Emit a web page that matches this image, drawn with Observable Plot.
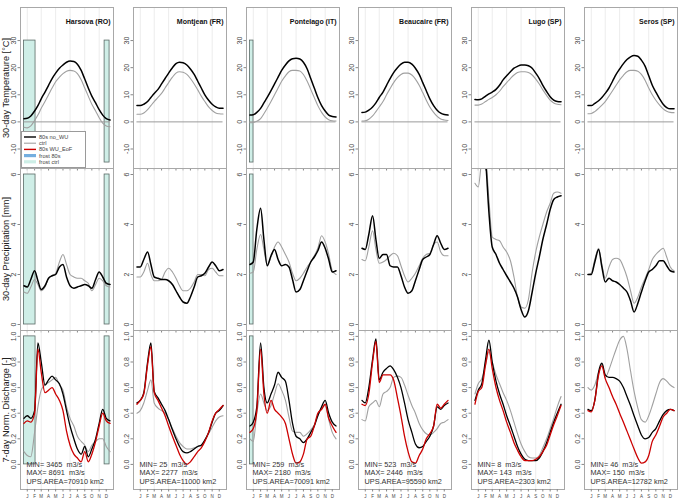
<!DOCTYPE html>
<html><head><meta charset="utf-8">
<script src="https://cdn.jsdelivr.net/npm/d3@7"></script>
<script src="https://cdn.jsdelivr.net/npm/@observablehq/plot@0.6"></script>
<style>
body{margin:0;background:#fff;font-family:"Liberation Sans",Arial,sans-serif;}
#chart{position:relative;width:678px;height:502px;overflow:hidden;background:#fff;}
.ylab{position:absolute;width:180px;height:10px;line-height:10px;text-align:center;transform:rotate(-90deg);white-space:nowrap;font-size:9.2px;color:#222;}
</style></head><body><div id="chart"></div>
<script>
// ---------------- data ----------------
const stations = ["Harsova (RO)","Montjean (FR)","Pontelago (IT)","Beaucaire (FR)","Lugo (SP)","Seros (SP)"];
const days = [1,15,30,46,60,74,90,105,120,135,151,166,181,196,212,227,243,258,273,288,304,319,334,349,365];
const monthLabels = ["J","F","M","A","M","J","J","A","S","O","N","D"];
const monthMidDays = [15,46,74,105,135,166,196,227,258,288,319,349];
const gridDays = [15,74,135,196,258,319];
const rowTitles = ["30-day Temperature [°C]","30-day Precipitation [mm]","7-day Norm. Discharge [-]"];
const tempTicks = [-10,0,10,20,30];
const precTicks = [0,2,4,6];
const dischTicks = [0,0.2,0.4,0.6,0.8,1.0];

// 30-day temperature, 80s no_WU (black)
const tempNoWU = [
  [1.2,1.3,2.2,4,6,8.5,11,13.5,16,18,19.8,21,22,22.5,22.3,21.3,19,15.8,12.5,9.5,7,4.5,2.5,1.2,0.7],
  [6,6,6.5,7.5,9,10.5,12,14,16,18,20,21.5,22,21.8,21,19.5,17.5,15,12.5,10,8,6.5,5.5,5,5],
  [2.5,2.6,3.5,5,7,9,11.5,14,16.5,19,21,22.5,23.3,23.5,23.2,22,19.5,16,12.5,9,6,4,2.5,2,1.8],
  [3.5,3.6,4.3,5.5,7,9,11,13.5,16,18.2,20,21.3,22,22,21.3,19.8,17.5,14.5,11.5,8.5,6,4.3,3.2,2.7,2.5],
  [8.3,8.2,8.5,9.5,10.3,11,12,13.5,15.5,17,18.5,19.8,20.5,21,21,20.7,19.8,18,16,13.5,11.2,9.3,8,7.5,7.4],
  [6,6,6.8,7.8,9,10.5,12.5,15,17.5,19.5,21.5,23,24,24.5,24.2,22.8,20.5,17,13.5,11,8.5,6.5,5.3,4.8,4.8]
];
// 30-day temperature, ctrl (grey)
const tempCtrl = [
  [-2,-2.2,-1.5,0.5,2.5,5,7.5,10,12.5,14.8,16.5,17.8,18.7,19,18.8,17.8,15.5,12.5,9.5,6.5,4,1.5,-0.5,-1.5,-1.8],
  [2.8,2.8,3.3,4.5,6,7.5,9,10.5,12.5,14.5,16.5,18,18.5,18.3,17.5,16,14,11.8,9.5,7.5,5.5,4.2,3.3,3,2.9],
  [-0.3,-0.2,0.2,1.2,3,5,7.5,10,12.5,15,17,18.5,19,19,18.8,17.5,15,12,9,6,3.5,1.8,0.8,0.4,0.3],
  [0.3,0.4,1,2.2,3.8,5.5,7.5,10,12.3,14.5,16.3,17.5,18,18,17.3,15.8,13.5,10.8,8,5.5,3.5,2,1.1,0.7,0.5],
  [6.2,6.2,6.6,7.5,8.3,9,10,11.3,13,14.5,16,17.3,18.2,18.5,18.5,18.2,17.3,15.8,14,11.8,9.8,8,7,6.5,6.3],
  [3,3.1,3.8,5,6.2,7.5,9.5,11.5,13.5,15.5,17.2,18.5,19,19,18.7,17.5,15.3,12.5,10,8,6.2,4.8,3.9,3.5,3.4]
];
// 30-day precipitation, 80s no_WU (black)
const precNoWU = [
  [1.55,1.5,1.8,2.15,1.75,1.4,1.55,1.85,1.95,2.0,2.3,2.4,1.9,1.55,1.45,1.5,1.55,1.6,1.55,1.45,1.8,2.1,1.9,1.65,1.6],
  [2.3,2.3,2.6,2.9,2.4,1.9,1.85,1.8,1.8,1.75,1.6,1.35,1.1,0.9,0.85,1.1,1.5,1.9,1.95,2.05,2.3,2.5,2.35,2.15,2.2],
  [2.4,2.5,3.8,4.65,3.4,2.35,2.75,3.0,2.6,2.35,2.4,2.3,1.8,1.3,1.4,1.75,2.15,2.5,2.7,2.95,3.3,3.05,2.6,2.1,2.15],
  [3.05,3.0,3.6,4.35,3.4,2.65,2.8,2.8,2.35,2.3,2.3,1.95,1.5,1.25,1.35,1.75,2.2,2.6,2.7,2.8,3.2,3.55,3.25,3.0,3.05],
  [7.0,7.4,7.8,6.6,4.5,3.1,2.8,2.45,2.2,1.95,1.7,1.45,1.1,0.6,0.3,0.55,1.3,2.05,2.7,3.4,4.0,4.6,5.0,5.1,5.15],
  [2.0,2.0,2.5,3.0,2.3,1.7,1.85,1.75,1.7,1.6,1.45,1.3,0.95,0.5,0.85,1.3,1.75,2.1,2.2,2.35,2.55,2.55,2.35,2.15,2.1]
];
// 30-day precipitation, ctrl (grey)
const precCtrl = [
  [1.3,1.25,1.5,1.8,1.6,1.35,1.5,1.85,1.95,2.05,2.5,2.8,2.4,2.0,1.9,1.85,1.85,1.75,1.65,1.35,1.6,1.85,1.75,1.55,1.5],
  [1.9,1.9,2.1,2.45,2.0,1.75,1.75,1.8,2.1,2.25,2.1,1.85,1.55,1.35,1.35,1.45,1.7,2.0,2.0,1.95,2.2,2.25,2.1,1.95,1.95],
  [2.05,2.1,3.0,3.6,3.0,2.4,2.7,3.1,3.3,3.1,2.8,2.5,2.05,1.75,1.85,2.05,2.3,2.5,2.75,3.05,3.55,3.3,2.8,2.15,2.0],
  [2.6,2.55,3.1,3.75,3.0,2.45,2.5,2.6,2.75,2.85,2.75,2.35,1.95,1.7,1.85,2.05,2.35,2.65,2.8,2.85,3.2,3.3,2.9,2.75,2.75],
  [5.65,5.5,6.5,6.6,5.0,3.5,3.4,3.35,3.1,2.9,2.55,1.9,1.1,0.7,0.65,1.0,2.1,2.9,3.5,4.0,4.5,4.85,5.25,5.3,5.25],
  [2.0,2.05,2.6,3.05,2.4,1.85,2.3,2.6,2.65,2.6,2.3,1.9,1.35,0.85,1.1,1.5,1.85,2.2,2.6,2.8,2.95,3.05,2.7,2.3,2.15]
];
// 7-day normalised discharge, 80s no_WU (black)
const dischNoWU = [
  [0.36,0.38,0.36,0.42,0.95,0.8,0.62,0.66,0.69,0.66,0.63,0.55,0.42,0.3,0.2,0.12,0.08,0.14,0.06,0.12,0.2,0.32,0.43,0.36,0.34],
  [0.48,0.5,0.56,0.8,0.95,0.57,0.52,0.47,0.42,0.35,0.27,0.2,0.14,0.1,0.09,0.1,0.12,0.14,0.15,0.19,0.25,0.33,0.4,0.42,0.46],
  [0.3,0.33,0.45,0.95,0.6,0.48,0.55,0.62,0.72,0.68,0.65,0.5,0.32,0.22,0.2,0.17,0.2,0.25,0.3,0.38,0.45,0.5,0.4,0.33,0.3],
  [0.5,0.48,0.6,0.82,0.98,0.66,0.72,0.75,0.77,0.74,0.68,0.6,0.48,0.35,0.25,0.16,0.13,0.14,0.18,0.22,0.3,0.45,0.43,0.46,0.48],
  [0.5,0.58,0.63,0.82,0.97,0.8,0.65,0.55,0.47,0.38,0.3,0.22,0.14,0.08,0.04,0.03,0.03,0.03,0.05,0.1,0.17,0.25,0.33,0.4,0.47],
  [0.43,0.42,0.5,0.72,0.79,0.7,0.68,0.68,0.67,0.65,0.6,0.53,0.46,0.38,0.3,0.23,0.2,0.21,0.25,0.28,0.34,0.39,0.42,0.43,0.42]
];
// 7-day normalised discharge, 80s WU_EoF (red)
const dischWU = [
  [0.32,0.34,0.33,0.4,0.9,0.72,0.56,0.58,0.6,0.55,0.5,0.42,0.26,0.15,0.08,0.05,0.02,0.1,0.02,0.08,0.18,0.3,0.4,0.34,0.32],
  [0.47,0.5,0.55,0.78,0.92,0.56,0.5,0.44,0.38,0.3,0.22,0.15,0.08,0.03,0.0,0.02,0.06,0.1,0.13,0.18,0.25,0.34,0.4,0.43,0.46],
  [0.25,0.28,0.42,0.9,0.55,0.4,0.5,0.43,0.4,0.37,0.32,0.2,0.08,0.01,0.02,0.08,0.2,0.22,0.3,0.4,0.43,0.47,0.36,0.3,0.25],
  [0.47,0.46,0.55,0.8,0.96,0.64,0.7,0.7,0.7,0.66,0.52,0.38,0.22,0.1,0.02,0.01,0.07,0.12,0.2,0.24,0.3,0.47,0.44,0.47,0.5],
  [0.47,0.57,0.6,0.78,0.9,0.75,0.6,0.5,0.42,0.33,0.25,0.17,0.11,0.06,0.03,0.03,0.03,0.04,0.06,0.1,0.15,0.23,0.31,0.38,0.46],
  [0.42,0.41,0.5,0.7,0.77,0.67,0.6,0.53,0.47,0.4,0.33,0.26,0.19,0.12,0.05,0.01,0.02,0.07,0.18,0.23,0.3,0.37,0.4,0.43,0.42]
];
// 7-day normalised discharge, ctrl (grey)
const dischCtrl = [
  [0.1,0.07,0.06,0.25,0.45,0.58,0.62,0.64,0.66,0.68,0.62,0.58,0.45,0.36,0.3,0.22,0.18,0.15,0.1,0.15,0.18,0.2,0.2,0.14,0.1],
  [0.4,0.42,0.48,0.58,0.66,0.48,0.44,0.42,0.4,0.35,0.28,0.22,0.17,0.14,0.12,0.12,0.13,0.14,0.15,0.19,0.24,0.29,0.34,0.37,0.38],
  [0.2,0.18,0.4,0.55,0.48,0.42,0.46,0.55,0.63,0.58,0.5,0.37,0.26,0.25,0.25,0.22,0.24,0.27,0.31,0.38,0.44,0.46,0.35,0.25,0.2],
  [0.35,0.34,0.45,0.48,0.5,0.45,0.55,0.57,0.6,0.68,0.69,0.68,0.62,0.54,0.46,0.4,0.32,0.27,0.24,0.23,0.25,0.28,0.32,0.33,0.35],
  [0.55,0.63,0.67,0.78,0.88,0.8,0.7,0.63,0.56,0.5,0.42,0.33,0.24,0.16,0.1,0.06,0.05,0.05,0.07,0.13,0.2,0.28,0.36,0.45,0.53],
  [0.6,0.58,0.62,0.72,0.78,0.68,0.74,0.82,0.9,0.97,1.0,0.9,0.73,0.57,0.44,0.35,0.33,0.38,0.46,0.55,0.64,0.67,0.65,0.62,0.6]
];
// frost periods (ctrl)
const frostStation = [0,0,2];
const frostStart = [1,342,1];
const frostEnd = [50,363,16];
// discharge statistics
const qMin = [3465,25,259,523,8,46];
const qMax = [8691,2277,2180,2446,143,150];
const upsArea = [70910,11000,70091,95590,2303,12782];
// legend
const legendLabels = ["80s no_WU","ctrl","80s WU_EoF","frost 80s","frost ctrl"];
const legendColors = ["#000000","#a0a0a0","#cc0000","#74aee0","#cdeee6"];
const legendWidths = [1.4,1.1,1.4,3.2,3.2];

// ---------------- layout ----------------
const colLeft = [20,133,246,358,471,584];
const PW = 93;
const rowTop = [7,168,330];
const rowH = [161,162,159];
const ML = 22, MR = 2, MT = 2, MB = 14;
const xDomain = [-13.6, 379.6];
const FONT = "Liberation Sans, Arial, Helvetica, sans-serif";
const GREY = "#a0a0a0", BLACK = "#000000", RED = "#cc0000";

const rows = [
  {series: [[tempCtrl, GREY, 1.1],[tempNoWU, BLACK, 1.5]], ticks: tempTicks, fmt: d => String(d), domain: [-17.2, 42.2], frost: [-15, 30], zero: true},
  {series: [[precCtrl, GREY, 1.1],[precNoWU, BLACK, 1.5]], ticks: precTicks, fmt: d => String(d), domain: [-0.24, 6.24], frost: [0, 6], zero: false},
  {series: [[dischCtrl, GREY, 1.1],[dischNoWU, BLACK, 1.3],[dischWU, RED, 1.3]], ticks: dischTicks, fmt: d3.format(".1f"), domain: [-0.196, 1.046], frost: [0, 1], zero: false}
];

const chart = document.getElementById("chart");

// row titles (drawn first, beneath the panels)
rowTitles.forEach((t, r) => {
  const d = document.createElement("div");
  d.className = "ylab";
  d.textContent = t;
  const cy = rowTop[r] + rowH[r] / 2;
  d.style.left = (5.5 - 90) + "px";
  d.style.top = (cy - 5) + "px";
  chart.appendChild(d);
});

rows.forEach((row, r) => {
  stations.forEach((st, c) => {
    const marks = [];
    marks.push(Plot.ruleX(gridDays, {stroke: "#ececec", strokeWidth: 1}));
    const fr = frostStation.map((s, i) => s === c ? i : -1).filter(i => i >= 0);
    if (fr.length) {
      marks.push(Plot.rect(fr, {
        x1: i => frostStart[i], x2: i => frostEnd[i],
        y1: row.frost[0], y2: row.frost[1],
        fill: "#cfeee7", stroke: "#5a6a66", strokeWidth: 0.8
      }));
    }
    if (row.zero) marks.push(Plot.ruleY([0], {x1: 1, x2: 365, stroke: "#9a9a9a", strokeWidth: 1}));
    row.series.forEach(([arr, color, w]) => {
      marks.push(Plot.lineY(arr[c], {x: days, stroke: color, strokeWidth: w, curve: "monotone-x", clip: true}));
    });
    marks.push(Plot.frame({stroke: "#a8a8a8", strokeWidth: 1}));
    marks.push(Plot.axisY({ticks: row.ticks, tickSize: 2.5, tickFormat: () => "", label: null, stroke: "#888"}));
    marks.push(Plot.text(row.ticks, {y: d => d, text: row.fmt, frameAnchor: "left", dx: -6.5, rotate: -90,
      textAnchor: "middle", lineAnchor: "middle", fontSize: 7, fill: "#444"}));
    marks.push(Plot.axisX({ticks: monthMidDays, tickSize: 2.5, tickFormat: () => "", label: null, stroke: "#888"}));
    if (r === 0) {
      marks.push(Plot.text([st], {frameAnchor: "top-right", dx: -3, dy: 11.5, fontWeight: "bold", fontSize: 7, fill: "#111"}));
    }
    if (r === 2) {
      marks.push(Plot.text(monthMidDays, {x: d => d, text: (d, i) => monthLabels[i], frameAnchor: "bottom", dy: 8, fontSize: 4.5, fill: "#444"}));
      const stats = [
        `MIN=\u00a0${qMin[c]}\u00a0\u00a0m3/s`,
        `MAX=\u00a0${qMax[c]}\u00a0\u00a0m3/s`,
        `UPS.AREA=${upsArea[c]}\u00a0km2`
      ];
      const offs = [-23, -14.5, -6];
      stats.forEach((s, k) => marks.push(Plot.text([s], {frameAnchor: "bottom-left", dx: 6, dy: offs[k], textAnchor: "start", fontSize: 7.3, fill: "#333"})));
    }
    const svg = Plot.plot({
      width: PW + ML + MR, height: rowH[r] + MT + MB,
      marginLeft: ML, marginRight: MR, marginTop: MT, marginBottom: MB,
      x: {domain: xDomain, label: null},
      y: {domain: row.domain, label: null},
      style: {background: "none", overflow: "visible", fontFamily: FONT},
      marks
    });
    svg.style.position = "absolute";
    svg.style.left = (colLeft[c] - ML) + "px";
    svg.style.top = (rowTop[r] - MT) + "px";
    svg.style.maxWidth = "none";
    chart.appendChild(svg);
  });
});

// legend in the first panel
const lg = d3.select(chart).append("svg")
  .attr("width", 65).attr("height", 37)
  .style("position", "absolute").style("left", "21px").style("top", "131px");
lg.append("rect").attr("x", 0.5).attr("y", 0.5).attr("width", 64).attr("height", 36)
  .attr("fill", "#fff").attr("stroke", "#9a9a9a");
legendLabels.forEach((l, i) => {
  const y = 6 + i * 6.2;
  lg.append("line").attr("x1", 3).attr("x2", 15).attr("y1", y).attr("y2", y)
    .attr("stroke", legendColors[i]).attr("stroke-width", legendWidths[i]);
  lg.append("text").attr("x", 18).attr("y", y).attr("dy", "0.35em")
    .attr("font-size", 5.6).attr("font-family", FONT).attr("fill", "#444").text(l);
});
</script></body></html>
